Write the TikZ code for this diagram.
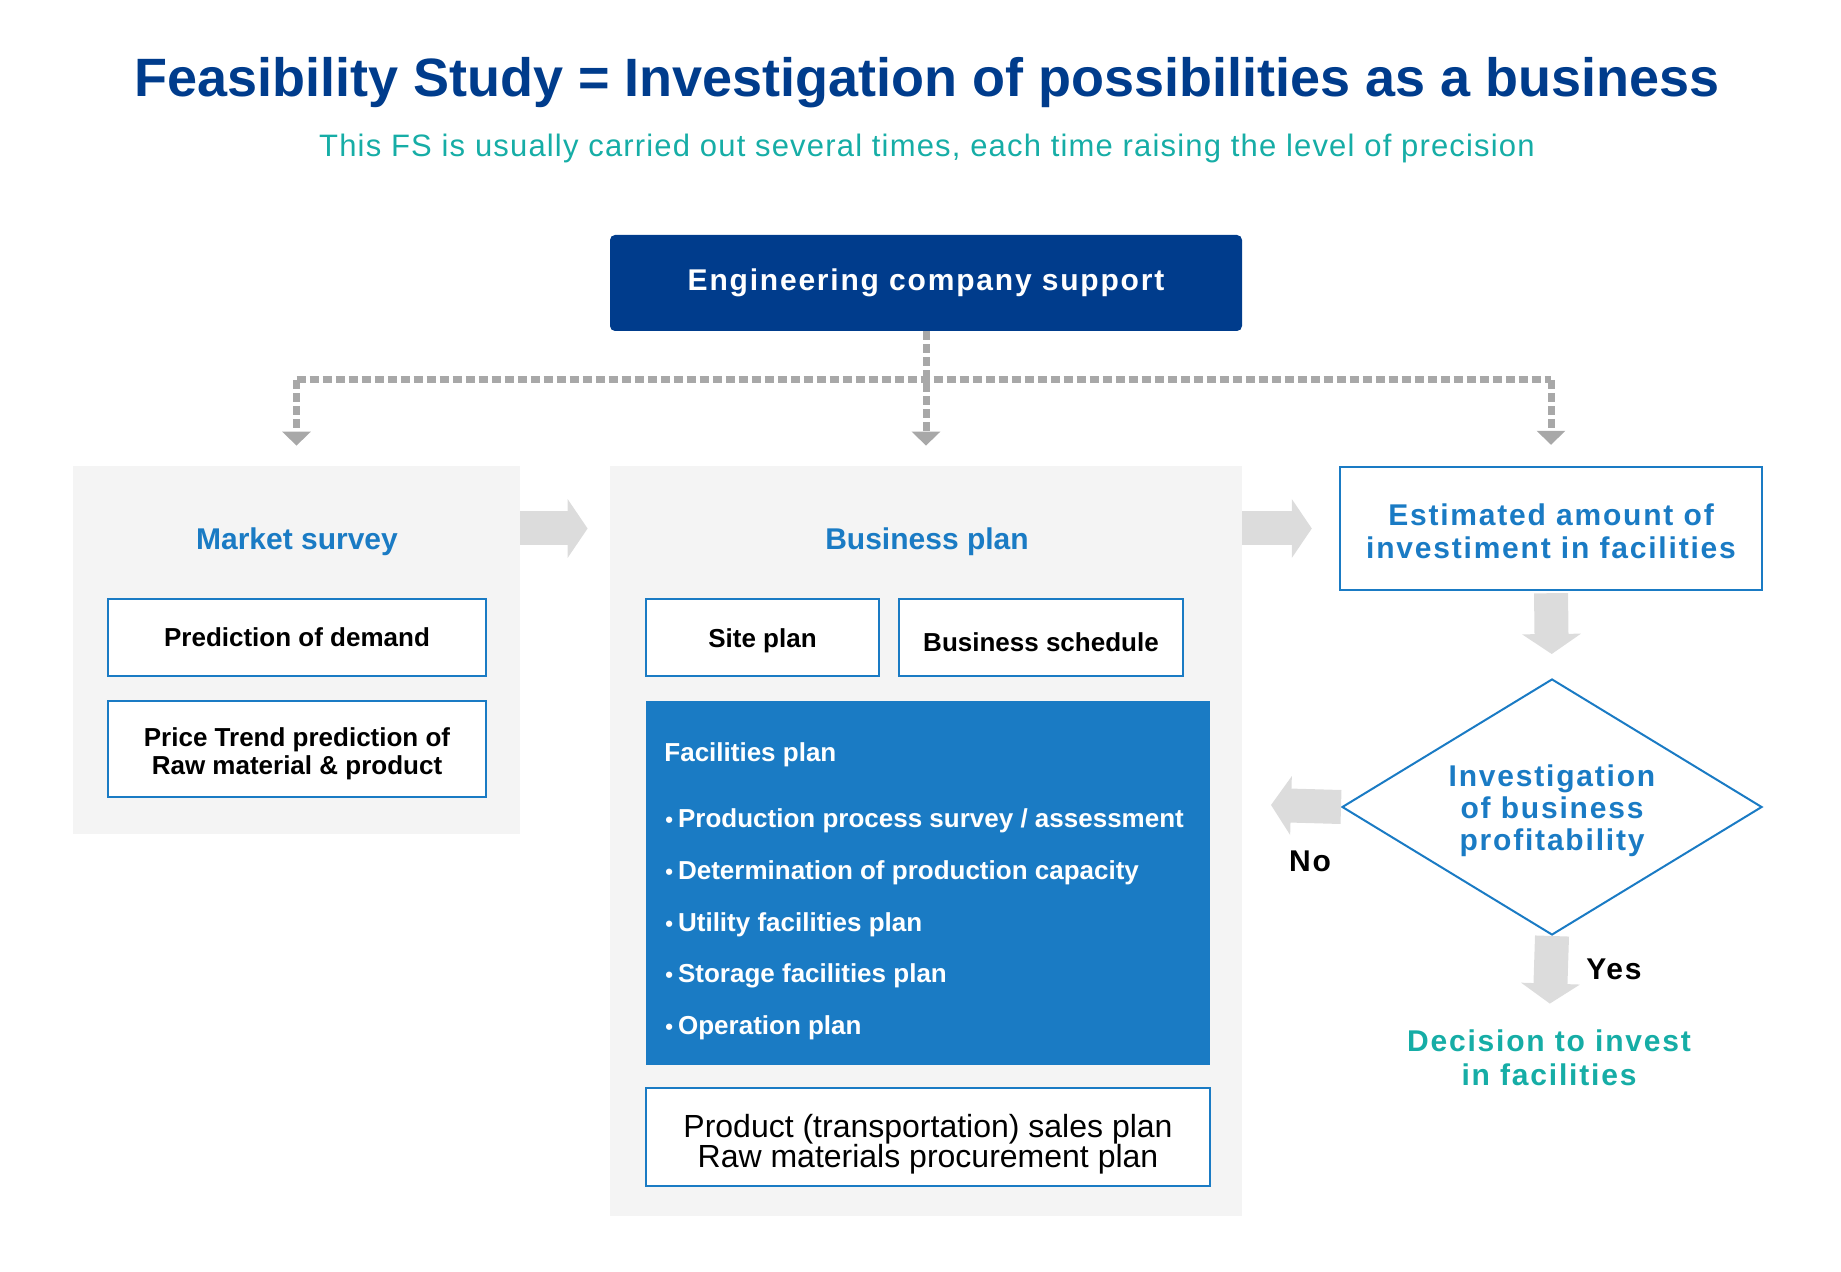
\documentclass[tikz,border=0pt]{standalone}
\usepackage{fontspec}
\setmainfont{Liberation Sans}
\newfontfamily\widefont[LetterSpace=6]{Liberation Sans}
\newfontfamily\subfont[LetterSpace=3.8]{Liberation Sans}
\usepackage{tikz}
\usetikzlibrary{positioning,arrows.meta,shapes.geometric,calc}
\definecolor{navy1}{HTML}{003C8C}
\definecolor{blue1}{HTML}{1A7BC4}
\definecolor{teal1}{HTML}{16ADA6}
\definecolor{panel1}{HTML}{F4F4F4}
\definecolor{gray1}{HTML}{DCDCDC}
\definecolor{gray2}{HTML}{A8A8A8}

\begin{document}
\begin{tikzpicture}[
    x=0.5pt, y=-0.5pt,
    panel/.style={fill=panel1, inner sep=0pt},
    obox/.style={draw=blue1, line width=1pt, fill=white, inner sep=0pt,
                 align=center, font=\bfseries\fontsize{13}{14}\selectfont},
    ptitle/.style={text=blue1, font=\bfseries\fontsize{15}{18}\selectfont},
    wtext/.style={font=\widefont\bfseries\fontsize{15}{16.5}\selectfont,
                  align=center, inner sep=0pt},
    item/.style={anchor=west, inner sep=0pt, text=white,
                 font=\bfseries\fontsize{13}{14}\selectfont},
    barr/.style={gray1, line width=17pt, -{Triangle[length=10pt, width=29pt]}},
    dline/.style={gray2, line width=3.5pt, dash pattern=on 4.5pt off 2pt},
    darr/.style={dline, -{Triangle[length=7pt, width=14pt]}},
]
\useasboundingbox (0,0) rectangle (1841,1272);

\node[text=navy1, font=\bfseries\fontsize{27}{30}\selectfont] (title) at (927,83)
  {Feasibility Study = Investigation of possibilities as a business};
\node[text=teal1, font=\subfont\fontsize{15.5}{18}\selectfont] (sub) at (927,148)
  {This FS is usually carried out several times, each time raising the level of precision};

\node[fill=navy1, rounded corners=2.5pt, minimum width=316pt, minimum height=48pt,
      text=white, font=\widefont\bfseries\fontsize{15}{18}\selectfont] (eng) at (926,283)
  {Engineering company support};

\node[panel, minimum width=223.5pt, minimum height=184pt] (ms) at (296.5,650) {};
\node[panel, minimum width=316pt, minimum height=375pt] (bp) at (926,841) {};
\node[ptitle] (mst) at (297,541.5) {Market survey};
\node[ptitle] (bpt) at (927,541.5) {Business plan};

\node[obox, minimum width=189pt, minimum height=38.5pt] (dem) at (297,637.5)
  {Prediction of demand};
\node[obox, minimum width=189pt, minimum height=48pt] (price) at (297,749)
  {\rule{0pt}{14.5pt}Price Trend prediction of\\Raw material \& product};
\node[obox, minimum width=116.5pt, minimum height=38.5pt,
      text height=13pt, text depth=2.8pt] (site) at (762.5,637.5) {Site plan};
\node[obox, minimum width=142pt, minimum height=38.5pt,
      text height=14.3pt, text depth=0pt] (sched) at (1041,637.5) {Business schedule};
\node[fill=blue1, minimum width=282pt, minimum height=182pt, inner sep=0pt] (fac)
  at (928,883) {};
\node[item] (fact) at (664,755) {Facilities plan};
\foreach \txt [count=\i] in {Production process survey / assessment,
    Determination of production capacity, Utility facilities plan,
    Storage facilities plan, Operation plan}
  \node[item] (fp\i) at (665,{821+(\i-1)*51.75})
    {{\fontsize{11}{11}\selectfont\textbullet}\hspace{2.5pt}\txt};
\node[obox, font=\fontsize{16}{15}\selectfont, minimum width=282pt,
      minimum height=49pt] (prod) at (928,1137)
  {\rule{0pt}{19pt}Product (transportation) sales plan\\Raw materials procurement plan};

\node[draw=blue1, line width=1.2pt, minimum width=211pt, minimum height=61.5pt,
      wtext, text=blue1] (est) at (1551,528.5)
  {\rule{0pt}{13.4pt}Estimated amount of\\investiment in facilities};
\node[diamond, draw=blue1, line width=1pt, aspect=1.65, minimum width=210pt,
      minimum height=128pt, wtext, font=\widefont\bfseries\fontsize{15}{16}\selectfont,
      text=blue1] (dia) at (1552,807)
  {\rule{0pt}{14.5pt}Investigation\\of business\\profitability};
\node[wtext, text=teal1, font=\widefont\bfseries\fontsize{15}{17}\selectfont] (dec)
  at (1549,1058) {Decision to invest\\in facilities};
\node[font=\widefont\bfseries\fontsize{15}{18}\selectfont] (no) at (1310,861) {No};
\node[font=\widefont\bfseries\fontsize{15}{18}\selectfont] (yes) at (1614,969) {Yes};
\coordinate (noend) at (1271,805);

\coordinate (jl) at (ms.north |- 0,380);
\coordinate (jr) at (est.north |- 0,380);
\draw[dline] (jl) -- (jr);
\draw[darr, shorten >=10pt] (eng.south) -- (eng.south |- bp.north);
\draw[darr, shorten >=10pt] (jl) -- (ms.north);
\draw[darr, shorten >=10.5pt] (jr) -- (est.north);

\draw[barr, shorten >=11pt] (ms.east |- est.west) -- (bp.west |- est.west);
\draw[barr, shorten >=13.5pt] (bp.east |- est.west) -- (est.west);
\draw[barr, shorten <=1pt, shorten >=12pt] (est.south) -- (dia.north);
\draw[barr, shorten >=13pt] (dia.south) -- (dec.north);
\draw[barr] (dia.west) -- (noend);
\end{tikzpicture}
\end{document}
